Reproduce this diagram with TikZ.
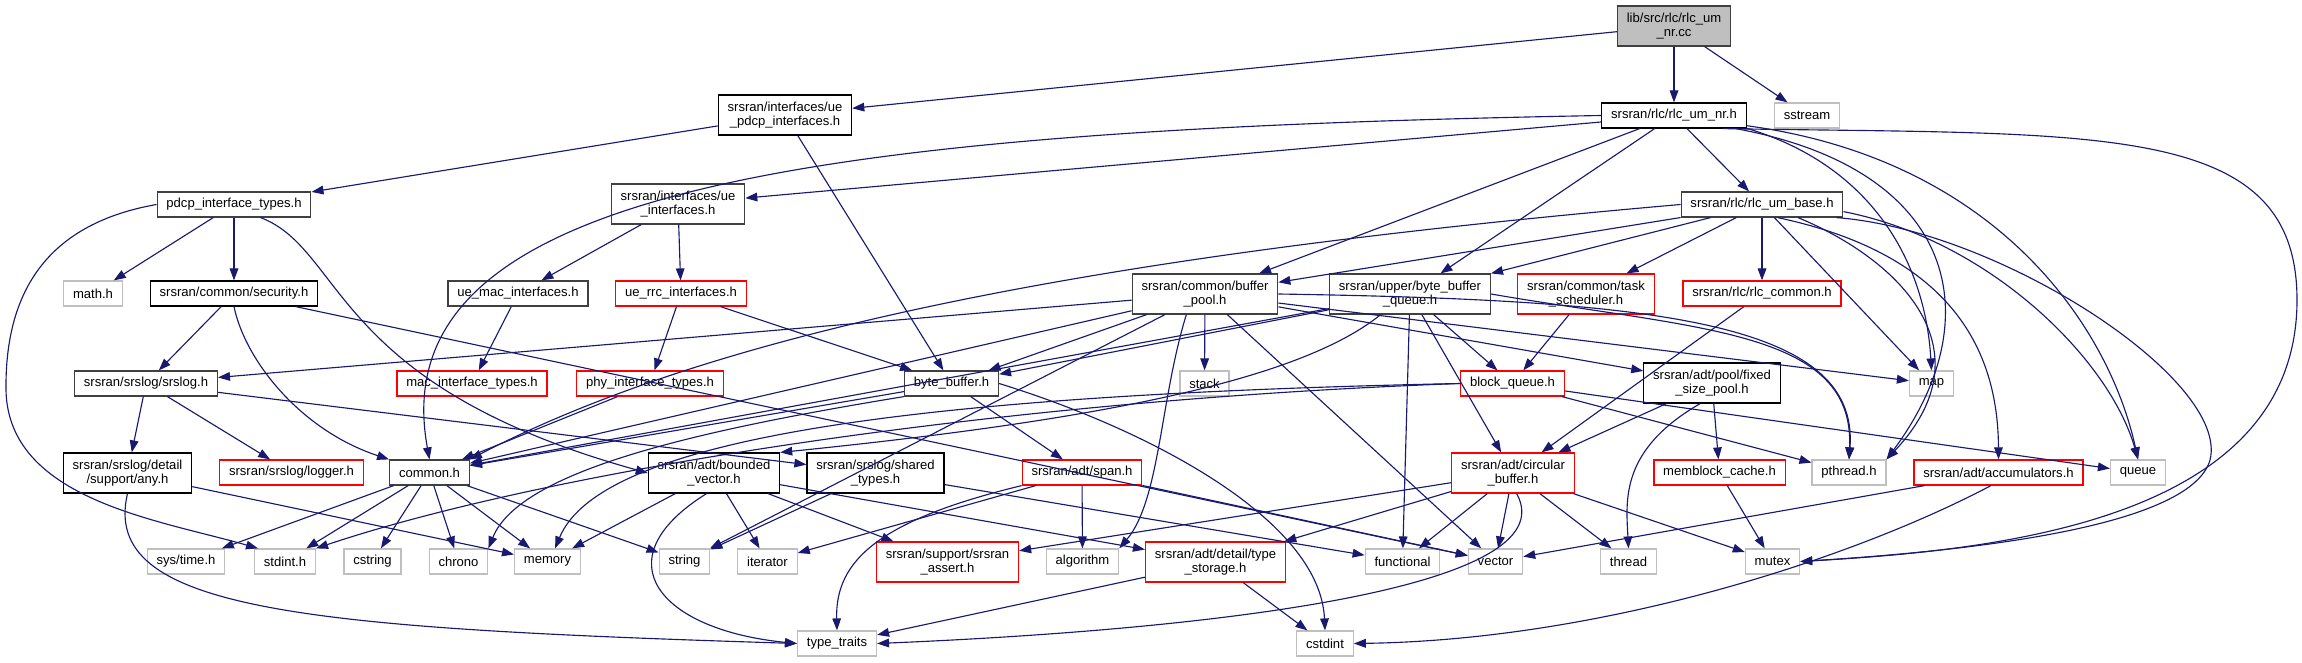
\documentclass[tikz,border=0pt]{standalone}
\usepackage{fontspec}
\setmainfont{Liberation Sans}
\usetikzlibrary{arrows.meta}
\definecolor{edgeblue}{HTML}{191970}
\definecolor{sysgray}{HTML}{BFBFBF}
\definecolor{darkline}{HTML}{404040}
\tikzset{
  file/.style={draw=black, fill=white, line width=0.9pt, inner xsep=7pt, inner ysep=0pt,
    minimum height=18.75pt, align=center, font=\fontsize{9.8pt}{11pt}\selectfont},
  dfile/.style={file, draw=darkline},
  sysfile/.style={file, draw=sysgray},
  redfile/.style={file, draw=red},
  rootfile/.style={file, draw=darkline, fill=sysgray},
  tall/.style={minimum height=30pt},
  dep/.style={draw=edgeblue, line width=0.85pt, -{Triangle[length=9pt,width=6.5pt]}}
}
\begin{document}
\begin{tikzpicture}[x=0.75pt,y=-0.75pt]
  \useasboundingbox (0,0) rectangle (2302,663);
  % row 0 and 1
  \node[rootfile, tall] (root) at (1674,26) {lib/src/rlc/rlc\_um\\\_nr.cc};
  \node[file] (rlcnr) at (1674,115.5) {srsran/rlc/rlc\_um\_nr.h};
  \node[sysfile] (sstream) at (1807,115.5) {sstream};
  \node[file, tall] (uepdcp) at (785,115) {srsran/interfaces/ue\\\_pdcp\_interfaces.h};
  % row 2
  \node[dfile] (pdcptypes) at (234,204.5) {pdcp\_interface\_types.h};
  \node[dfile, tall] (ueif) at (678,204) {srsran/interfaces/ue\\\_interfaces.h};
  \node[dfile] (rlcbase) at (1762,204.5) {srsran/rlc/rlc\_um\_base.h};
  % row 3
  \node[sysfile] (mathh) at (93,293.5) {math.h};
  \node[file] (security) at (234,293.5) {srsran/common/security.h};
  \node[dfile] (uemac) at (518,293.5) {ue\_mac\_interfaces.h};
  \node[redfile] (uerrc) at (681,293.5) {ue\_rrc\_interfaces.h};
  \node[dfile, tall] (bufpool) at (1205,294) {srsran/common/buffer\\\_pool.h};
  \node[dfile, tall] (bbq) at (1410,294) {srsran/upper/byte\_buffer\\\_queue.h};
  \node[redfile, tall] (tasksched) at (1586,294) {srsran/common/task\\\_scheduler.h};
  \node[redfile] (rlccommon) at (1762,293.5) {srsran/rlc/rlc\_common.h};
  % row 4
  \node[dfile] (srslog) at (146,383.5) {srsran/srslog/srslog.h};
  \node[redfile] (mactypes) at (472,383.5) {mac\_interface\_types.h};
  \node[redfile] (phytypes) at (650,383.5) {phy\_interface\_types.h};
  \node[dfile] (bytebuf) at (951.5,383.5) {byte\_buffer.h};
  \node[sysfile] (stack) at (1204.5,383.5) {stack};
  \node[redfile] (blockq) at (1512.5,383.5) {block\_queue.h};
  \node[file, tall] (fixedpool) at (1712,383) {srsran/adt/pool/fixed\\\_size\_pool.h};
  \node[sysfile] (map) at (1931.5,383.5) {map};
  % row 5
  \node[file, tall] (anyh) at (127.5,473) {srsran/srslog/detail\\/support/any.h};
  \node[redfile] (logger) at (291.5,472.5) {srsran/srslog/logger.h};
  \node[dfile] (common) at (429.5,472.5) {common.h};
  \node[file, tall] (boundedvec) at (714,473) {srsran/adt/bounded\\\_vector.h};
  \node[file, tall] (sharedtypes) at (875.5,473) {srsran/srslog/shared\\\_types.h};
  \node[redfile] (span) at (1082,472.5) {srsran/adt/span.h};
  \node[redfile, tall] (circbuf) at (1513,473) {srsran/adt/circular\\\_buffer.h};
  \node[redfile] (memblock) at (1719.5,472.5) {memblock\_cache.h};
  \node[sysfile] (pthread) at (1849,472.5) {pthread.h};
  \node[redfile] (accum) at (1998.5,472.5) {srsran/adt/accumulators.h};
  \node[sysfile] (queue) at (2138,472.5) {queue};
  % row 6
  \node[sysfile] (systime) at (186,561.5) {sys/time.h};
  \node[sysfile] (stdint) at (285,561.5) {stdint.h};
  \node[sysfile] (cstring) at (372.5,561.5) {cstring};
  \node[sysfile] (chrono) at (458.5,561.5) {chrono};
  \node[sysfile] (memory) at (547.5,561.5) {memory};
  \node[sysfile] (string) at (684.5,561.5) {string};
  \node[sysfile] (iterator) at (767.5,561.5) {iterator};
  \node[redfile, tall] (srsassert) at (947.5,562) {srsran/support/srsran\\\_assert.h};
  \node[sysfile] (algorithm) at (1082.5,561.5) {algorithm};
  \node[redfile, tall] (typestorage) at (1215.5,562) {srsran/adt/detail/type\\\_storage.h};
  \node[sysfile] (functional) at (1402.5,561.5) {functional};
  \node[sysfile] (vector) at (1495.5,561.5) {vector};
  \node[sysfile] (thread) at (1628.5,561.5) {thread};
  \node[sysfile] (mutex) at (1772.5,561.5) {mutex};
  % row 7
  \node[sysfile] (typetraits) at (837,643.5) {type\_traits};
  \node[sysfile] (cstdint) at (1325,643.5) {cstdint};

  % straight dependencies
  \foreach \s/\t in {root/uepdcp, root/rlcnr, root/sstream,
      uepdcp/pdcptypes, uepdcp/bytebuf,
      rlcnr/ueif, rlcnr/bufpool, rlcnr/bbq, rlcnr/rlcbase,
      pdcptypes/mathh, pdcptypes/security, ueif/uemac, ueif/uerrc,
      rlcbase/bufpool, rlcbase/bbq, rlcbase/tasksched, rlcbase/rlccommon, rlcbase/map,
      security/srslog, security/vector, uemac/mactypes, uerrc/phytypes, uerrc/bytebuf,
      bufpool/srslog, bufpool/common, bufpool/bytebuf, bufpool/stack, bufpool/string,
      bufpool/vector, bufpool/map, bufpool/fixedpool,
      bbq/bytebuf, bbq/common, bbq/blockq, bbq/circbuf, bbq/functional,
      tasksched/blockq, rlccommon/circbuf, srslog/anyh, srslog/logger, srslog/sharedtypes,
      phytypes/common, bytebuf/common, bytebuf/span, blockq/pthread, blockq/queue,
      fixedpool/circbuf, fixedpool/memblock, memblock/mutex,
      common/systime, common/stdint, common/cstring, common/chrono, common/memory, common/string,
      anyh/memory, boundedvec/memory, boundedvec/iterator, boundedvec/srsassert,
      boundedvec/typestorage, sharedtypes/string, sharedtypes/functional,
      span/algorithm, span/iterator, span/vector,
      circbuf/srsassert, circbuf/typestorage, circbuf/functional, circbuf/vector,
      circbuf/thread, circbuf/mutex, typestorage/typetraits, typestorage/cstdint, accum/vector}
    \draw[dep] (\s) -- (\t);

  % curved dependencies
  \draw[dep] (rlcnr.west) .. controls (800,130) and (380,190) .. (common.north);
  \draw[dep] (rlcnr.-15) .. controls (2100,135) and (2297,120) .. (2297,300)
    .. controls (2297,520) and (2000,550) .. (mutex.east);
  \draw[dep] (rlcnr.-10) .. controls (1870,165) and (1925,260) .. (map.north);
  \draw[dep] (rlcnr.-8) .. controls (2000,160) and (2110,330) .. (queue.north);
  \draw[dep] (rlcnr.-12) .. controls (1960,170) and (1990,320) .. (pthread.north east);
  \draw[dep] (rlcbase.-10) .. controls (2000,230) and (2230,380) .. (2210,460)
    .. controls (2190,530) and (1950,552) .. (mutex.east);
  \draw[dep] (rlcbase.-5) .. controls (1990,240) and (2110,360) .. (queue.north);
  \draw[dep] (rlcbase.-20) .. controls (1900,260) and (1990,350) .. (pthread.north east);
  \draw[dep] (rlcbase.-40) .. controls (1930,250) and (1998,330) .. (accum.north);
  \draw[dep] (rlcbase.west) .. controls (1100,255) and (720,330) .. (common.north east);
  \draw[dep] (pdcptypes.west) .. controls (40,225) and (5,300) .. (6,390)
    .. controls (8,500) and (160,520) .. ([xshift=3pt]stdint.north west);
  \draw[dep] ([xshift=20pt]pdcptypes.south) .. controls (345,250) and (330,385) .. (boundedvec.west);
  \draw[dep] (security.south) .. controls (245,360) and (300,430) .. (common.north west);
  \draw[dep] ([xshift=-14pt]bufpool.south) .. controls (1160,400) and (1160,500) .. (algorithm.north east);
  \draw[dep] (bufpool.east) .. controls (1650,300) and (1860,320) .. (pthread.north);
  \draw[dep] (bbq.east) .. controls (1700,330) and (1855,330) .. (pthread.north);
  \draw[dep] ([xshift=-22pt]bbq.south) .. controls (1300,380) and (1100,420) .. (boundedvec.north east);
  \draw[dep] (bytebuf.east) .. controls (1150,430) and (1320,520) .. (cstdint.north);
  \draw[dep] (bytebuf.south west) .. controls (700,430) and (520,470) .. (chrono.north east);
  \draw[dep] (blockq.west) .. controls (900,395) and (600,440) .. (memory.60);
  \draw[dep] (blockq.west) .. controls (1000,400) and (550,470) .. (stdint.north east);
  \draw[dep] (fixedpool.-120) .. controls (1620,450) and (1626,500) .. (thread.north);
  \draw[dep] (anyh.south) .. controls (100,610) and (300,628) .. (typetraits.west);
  \draw[dep] (boundedvec.250) .. controls (600,560) and (660,630) .. (typetraits.west);
  \draw[dep] (span.south west) .. controls (880,520) and (835,560) .. (typetraits.north);
  \draw[dep] (circbuf.-80) .. controls (1570,590) and (1200,630) .. (typetraits.east);
  \draw[dep] (accum.-120) .. controls (1850,560) and (1600,640) .. (cstdint.east);
\end{tikzpicture}
\end{document}
